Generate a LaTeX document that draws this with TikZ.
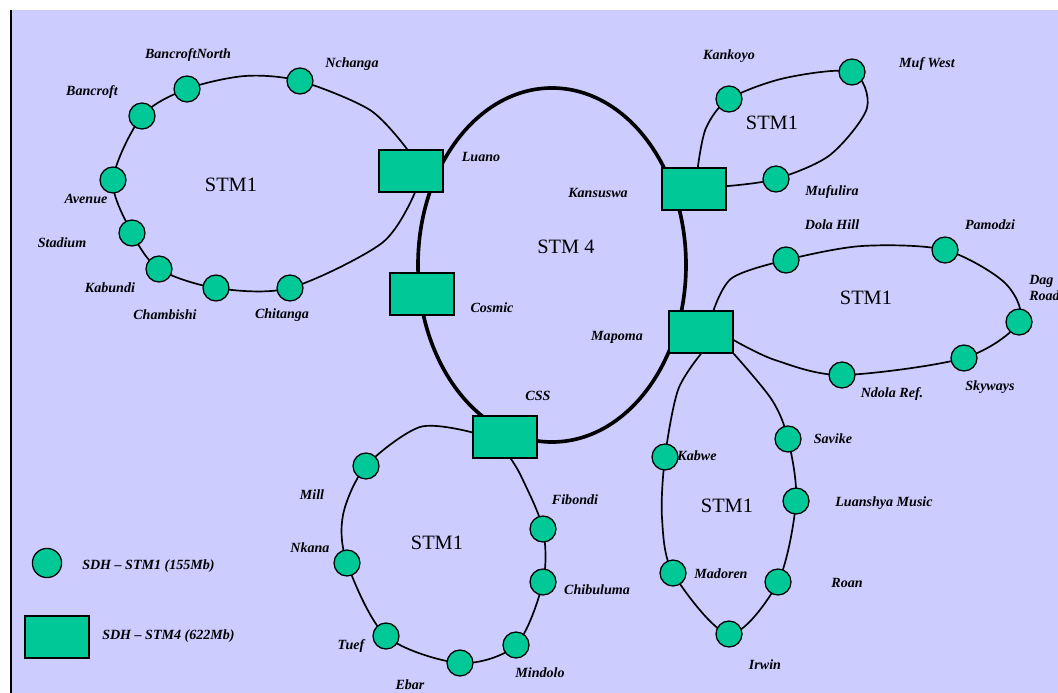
\documentclass[tikz,border=0pt]{standalone}
\usepackage{fontspec}
\setmainfont{Liberation Serif}
\usetikzlibrary{positioning,backgrounds}

\definecolor{sdhgreen}{HTML}{00C896}
\definecolor{panel}{HTML}{CCCCFF}

\tikzset{
  stmone/.style={circle, draw, fill=sdhgreen, line width=0.9pt, minimum size=6.5mm, inner sep=0pt},
  stmfour/.style={rectangle, draw, fill=sdhgreen, line width=1.1pt, minimum width=16mm, minimum height=10.5mm, inner sep=0pt},
  site/.style={font=\fontsize{10}{11}\selectfont\bfseries\itshape, inner sep=0pt},
  ringname/.style={font=\fontsize{14.5}{16}\selectfont, inner sep=0pt},
  ring/.style={line width=1.2pt},
  corering/.style={line width=2.6pt},
}

\begin{document}
\begin{tikzpicture}[x=0.25mm,y=0.25mm]
\useasboundingbox (0,0) rectangle (1058,-693);

% STM4 sites
\node[stmfour] (Luano) at (411,-171) {};
\node[stmfour] (Cosmic) at (422,-294) {};
\node[stmfour] (Kansuswa) at (694,-189) {};
\node[stmfour] (Mapoma) at (701,-332) {};
\node[stmfour] (CSS) at (505,-437) {};
\node[site] (tLuano) at (481,-157) {Luano};
\node[site] (tCosmic) at (492,-308) {Cosmic};
\node[site] (tKansuswa) at (598,-193) {Kansuswa};
\node[site] (tMapoma) at (617,-337) {Mapoma};
\node[site] (tCSS) at (538,-396) {CSS};
\node[ringname] (nCore) at (566,-247) {STM 4};

% ring off Luano
\node[stmone] (Nchanga) at (300,-81) {};
\node[stmone] (BancroftN) at (187,-89) {};
\node[stmone] (Bancroft) at (142,-116) {};
\node[stmone] (Avenue) at (113,-180) {};
\node[stmone] (Stadium) at (132,-233) {};
\node[stmone] (Kabundi) at (159,-269) {};
\node[stmone] (Chambishi) at (216,-288) {};
\node[stmone] (Chitanga) at (290,-288) {};
\node[site] (tNchanga) at (352,-64) {Nchanga};
\node[site] (tBancroftN) at (188,-55) {BancroftNorth};
\node[site] (tBancroft) at (92,-92) {Bancroft};
\node[site] (tAvenue) at (86,-199) {Avenue};
\node[site] (tStadium) at (62,-243) {Stadium};
\node[site] (tKabundi) at (110,-288) {Kabundi};
\node[site] (tChambishi) at (165,-315) {Chambishi};
\node[site] (tChitanga) at (282,-315) {Chitanga};
\node[ringname] (nWest) at (231,-185) {STM1};

% ring off Kansuswa
\node[stmone] (Kankoyo) at (729,-99) {};
\node[stmone] (MufWest) at (852,-72) {};
\node[stmone] (Mufulira) at (776,-179) {};
\node[site] (tKankoyo) at (729,-56) {Kankoyo};
\node[site] (tMufWest) at (927,-64) {Muf West};
\node[site] (tMufulira) at (832,-192) {Mufulira};
\node[ringname] (nNorth) at (772,-123) {STM1};

% ring off Mapoma, east side
\node[stmone] (DolaHill) at (786,-260) {};
\node[stmone] (Pamodzi) at (945,-250) {};
\node[stmone] (Dag) at (1019,-322) {};
\node[stmone] (Skyways) at (964,-358) {};
\node[stmone] (NdolaRef) at (842,-375) {};
\node[site] (tDolaHill) at (832,-225) {Dola Hill};
\node[site] (tPamodzi) at (990,-225) {Pamodzi};
\node[site, anchor=west, align=left] (tDag) at (1029,-288) {Dag\\Road};
\node[site] (tSkyways) at (990,-387) {Skyways};
\node[site] (tNdolaRef) at (892,-394) {Ndola Ref.};
\node[ringname] (nEast) at (866,-298) {STM1};

% ring off Mapoma, south side
\node[stmone] (Kabwe) at (665,-457) {};
\node[stmone] (Madoren) at (673,-573) {};
\node[stmone] (Irwin) at (729,-634) {};
\node[stmone] (Roan) at (778,-582) {};
\node[stmone] (Luanshya) at (796,-501) {};
\node[stmone] (Savike) at (788,-439) {};
\node[site] (tKabwe) at (697,-456) {Kabwe};
\node[site] (tMadoren) at (721,-574) {Madoren};
\node[site] (tIrwin) at (765,-665) {Irwin};
\node[site] (tRoan) at (847,-583) {Roan};
\node[site] (tLuanshya) at (884,-503) {Luanshya Music};
\node[site] (tSavike) at (833,-439) {Savike};
\node[ringname] (nSouth) at (727,-506) {STM1};

% ring off CSS
\node[stmone] (Mill) at (366,-466) {};
\node[stmone] (Nkana) at (347,-563) {};
\node[stmone] (Tuef) at (386,-636) {};
\node[stmone] (Ebar) at (460,-663) {};
\node[stmone] (Mindolo) at (516,-645) {};
\node[stmone] (Chibuluma) at (543,-582) {};
\node[stmone] (Fibondi) at (543,-529) {};
\node[site] (tMill) at (312,-495) {Mill};
\node[site] (tNkana) at (310,-548) {Nkana};
\node[site] (tTuef) at (351,-646) {Tuef};
\node[site] (tEbar) at (410,-685) {Ebar};
\node[site] (tMindolo) at (540,-673) {Mindolo};
\node[site] (tChibuluma) at (597,-590) {Chibuluma};
\node[site] (tFibondi) at (575,-500) {Fibondi};
\node[ringname] (nSouthWest) at (437,-543) {STM1};

% key
\node[stmone, minimum size=7.3mm] (KeyOne) at (47,-563) {};
\node[site, anchor=west] (tKeyOne) at (82,-566) {SDH -- STM1 (155Mb)};
\node[stmfour] (KeyFour) at (57,-637) {};
\node[site, anchor=west] (tKeyFour) at (102,-636) {SDH -- STM4 (622Mb)};

\begin{scope}[on background layer]
  \fill[panel] (11,-10) rectangle (1058,-693);
  \draw[line width=2pt] (11,-10) -- (11,-693);

  % core ring
  \draw[corering] (552,-265) ellipse [x radius=33.5mm, y radius=44.25mm];

  % STM1 rings
  \draw[ring] plot[smooth] coordinates {(Luano.-80) (382,-243) (Chitanga.center) (Chambishi.center)
    (Kabundi.center) (Stadium.center) (Avenue.center) (Bancroft.center) (BancroftN.center)
    (245,-76) (Nchanga.center) (370,-110) (Luano.100)};
  \draw[ring] plot[smooth] coordinates {(Kansuswa.5) (Mufulira.center) (830,-155) (867,-108)
    (MufWest.center) (785,-78) (Kankoyo.center) (706,-128) (Kansuswa.80)};
  \draw[ring] plot[smooth] coordinates {(Mapoma.60) (732,-278) (DolaHill.center) (862,-246)
    (Pamodzi.center) (1005,-283) (Dag.center) (Skyways.center) (NdolaRef.center) (775,-360) (Mapoma.-14)};
  \draw[ring] plot[smooth] coordinates {(Mapoma.south) (678,-390) (Kabwe.center) (662,-518)
    (Madoren.center) (Irwin.center) (Roan.center) (Luanshya.center) (Savike.center) (772,-400)
    (Mapoma.south east)};
  \draw[ring] plot[smooth] coordinates {(CSS.172) (420,-427) (Mill.center) (343,-515) (Nkana.center)
    (Tuef.center) (Ebar.center) (Mindolo.center) (Chibuluma.center) (Fibondi.center) (522,-478) (CSS.-75)};
\end{scope}
\end{tikzpicture}
\end{document}
